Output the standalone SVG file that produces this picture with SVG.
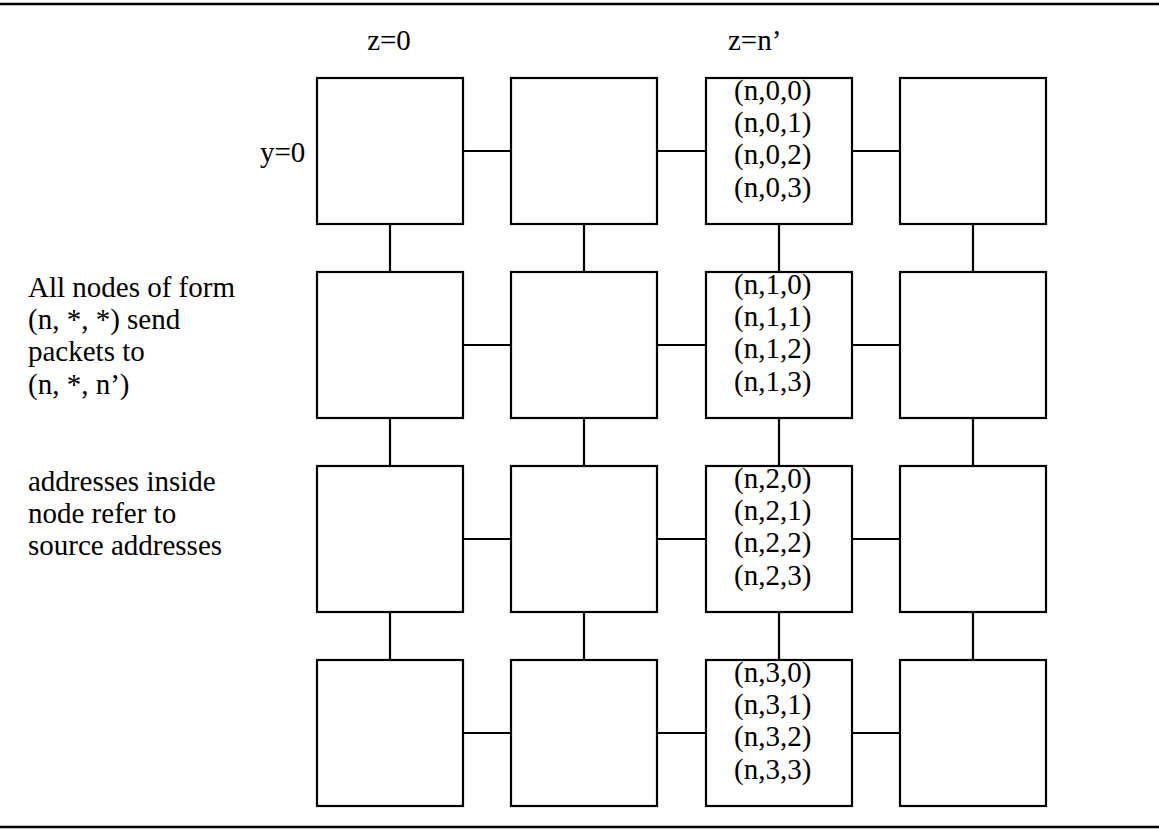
<svg xmlns="http://www.w3.org/2000/svg" width="1159" height="830" viewBox="0 0 1159 830">
<style>
.box{fill:#fff;stroke:#000;stroke-width:2.2}
.ln{stroke:#000;stroke-width:2.2;fill:none}
.rule{stroke:#000;stroke-width:2.5}
text{font-family:"Liberation Serif","Times New Roman",serif;font-size:29px;fill:#000}
</style>
<rect width="1159" height="830" fill="#fff"/>
<line class="rule" x1="0" y1="4" x2="1159" y2="4"/>
<line class="rule" x1="0" y1="827" x2="1159" y2="827"/>
<g id="labels">
<text x="389" y="50" text-anchor="middle">z=0</text>
<text x="728" y="50">z=n’</text>
<text x="260" y="162">y=0</text>
<text x="28" y="297"><tspan x="28" y="297">All nodes of form</tspan><tspan x="28" y="329.2">(n, *, *) send</tspan><tspan x="28" y="361.4">packets to</tspan><tspan x="28" y="393.6">(n, *, n’)</tspan></text>
<text x="28" y="491"><tspan x="28" y="491">addresses inside</tspan><tspan x="28" y="523.2">node refer to</tspan><tspan x="28" y="555.4">source addresses</tspan></text>
</g>
<g id="connectors">
<line class="ln" x1="463" y1="151" x2="511" y2="151"/>
<line class="ln" x1="657" y1="151" x2="706" y2="151"/>
<line class="ln" x1="852" y1="151" x2="900" y2="151"/>
<line class="ln" x1="463" y1="345" x2="511" y2="345"/>
<line class="ln" x1="657" y1="345" x2="706" y2="345"/>
<line class="ln" x1="852" y1="345" x2="900" y2="345"/>
<line class="ln" x1="463" y1="539" x2="511" y2="539"/>
<line class="ln" x1="657" y1="539" x2="706" y2="539"/>
<line class="ln" x1="852" y1="539" x2="900" y2="539"/>
<line class="ln" x1="463" y1="733" x2="511" y2="733"/>
<line class="ln" x1="657" y1="733" x2="706" y2="733"/>
<line class="ln" x1="852" y1="733" x2="900" y2="733"/>
<line class="ln" x1="390" y1="224" x2="390" y2="272"/>
<line class="ln" x1="584" y1="224" x2="584" y2="272"/>
<line class="ln" x1="779" y1="224" x2="779" y2="272"/>
<line class="ln" x1="973" y1="224" x2="973" y2="272"/>
<line class="ln" x1="390" y1="418" x2="390" y2="466"/>
<line class="ln" x1="584" y1="418" x2="584" y2="466"/>
<line class="ln" x1="779" y1="418" x2="779" y2="466"/>
<line class="ln" x1="973" y1="418" x2="973" y2="466"/>
<line class="ln" x1="390" y1="612" x2="390" y2="660"/>
<line class="ln" x1="584" y1="612" x2="584" y2="660"/>
<line class="ln" x1="779" y1="612" x2="779" y2="660"/>
<line class="ln" x1="973" y1="612" x2="973" y2="660"/>
</g>
<g id="node-0-0"><rect class="box" x="317" y="78" width="146" height="146"/></g>
<g id="node-0-1"><rect class="box" x="511" y="78" width="146" height="146"/></g>
<g id="node-0-2"><rect class="box" x="706" y="78" width="146" height="146"/>
<text x="734" y="100"><tspan x="734" y="100">(n,0,0)</tspan><tspan x="734" y="132.2">(n,0,1)</tspan><tspan x="734" y="164.4">(n,0,2)</tspan><tspan x="734" y="196.6">(n,0,3)</tspan></text></g>
<g id="node-0-3"><rect class="box" x="900" y="78" width="146" height="146"/></g>
<g id="node-1-0"><rect class="box" x="317" y="272" width="146" height="146"/></g>
<g id="node-1-1"><rect class="box" x="511" y="272" width="146" height="146"/></g>
<g id="node-1-2"><rect class="box" x="706" y="272" width="146" height="146"/>
<text x="734" y="294"><tspan x="734" y="294">(n,1,0)</tspan><tspan x="734" y="326.2">(n,1,1)</tspan><tspan x="734" y="358.4">(n,1,2)</tspan><tspan x="734" y="390.6">(n,1,3)</tspan></text></g>
<g id="node-1-3"><rect class="box" x="900" y="272" width="146" height="146"/></g>
<g id="node-2-0"><rect class="box" x="317" y="466" width="146" height="146"/></g>
<g id="node-2-1"><rect class="box" x="511" y="466" width="146" height="146"/></g>
<g id="node-2-2"><rect class="box" x="706" y="466" width="146" height="146"/>
<text x="734" y="488"><tspan x="734" y="488">(n,2,0)</tspan><tspan x="734" y="520.2">(n,2,1)</tspan><tspan x="734" y="552.4">(n,2,2)</tspan><tspan x="734" y="584.6">(n,2,3)</tspan></text></g>
<g id="node-2-3"><rect class="box" x="900" y="466" width="146" height="146"/></g>
<g id="node-3-0"><rect class="box" x="317" y="660" width="146" height="146"/></g>
<g id="node-3-1"><rect class="box" x="511" y="660" width="146" height="146"/></g>
<g id="node-3-2"><rect class="box" x="706" y="660" width="146" height="146"/>
<text x="734" y="682"><tspan x="734" y="682">(n,3,0)</tspan><tspan x="734" y="714.2">(n,3,1)</tspan><tspan x="734" y="746.4">(n,3,2)</tspan><tspan x="734" y="778.6">(n,3,3)</tspan></text></g>
<g id="node-3-3"><rect class="box" x="900" y="660" width="146" height="146"/></g>
</svg>
